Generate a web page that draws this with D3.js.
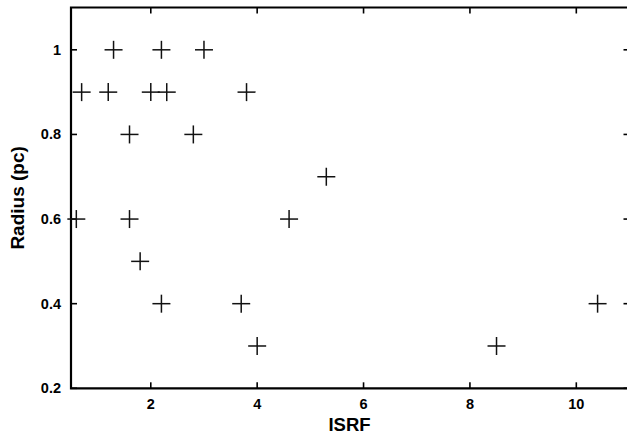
<!DOCTYPE html>
<html><head><meta charset="utf-8">
<script src="https://cdn.jsdelivr.net/npm/d3@7"></script>
<style>html,body{margin:0;padding:0;background:#fff;overflow:hidden}</style>
</head><body>
<script>
const isrf   = [0.6, 0.7, 1.2, 1.3, 1.6, 1.6, 1.8, 2.0, 2.2, 2.2, 2.3, 2.8, 3.0, 3.7, 3.8, 4.0, 4.6, 5.3, 8.5, 10.4];
const radius = [0.6, 0.9, 0.9, 1.0, 0.8, 0.6, 0.5, 0.9, 1.0, 0.4, 0.9, 0.8, 1.0, 0.4, 0.9, 0.3, 0.6, 0.7, 0.3, 0.4];
const xTicks = [2, 4, 6, 8, 10];
const yTicks = [0.2, 0.4, 0.6, 0.8, 1.0];
const xLabel = "ISRF";
const yLabel = "Radius (pc)";

const W = 627, H = 434;
const L = 71, R = 629.5, T = 7.5, B = 388.3;
const svg = d3.select("body").append("svg").attr("width", W).attr("height", H);
const x = d3.scaleLinear().domain([0.5, 11]).range([L, R]);
const y = d3.scaleLinear().domain([0.2, 1.1]).range([B, T]);
const font = "'Liberation Sans', Arial, Helvetica, sans-serif";

// ticks (inward)
const tk = 6;
const g = svg.append("g").attr("stroke", "#000").attr("stroke-width", 1.6);
xTicks.forEach(v => {
  g.append("line").attr("x1", x(v)).attr("x2", x(v)).attr("y1", B).attr("y2", B - tk);
  g.append("line").attr("x1", x(v)).attr("x2", x(v)).attr("y1", T).attr("y2", T + tk);
});
yTicks.forEach(v => {
  g.append("line").attr("x1", L).attr("x2", L + tk).attr("y1", y(v)).attr("y2", y(v));
  g.append("line").attr("x1", R).attr("x2", R - tk).attr("y1", y(v)).attr("y2", y(v));
});

// frame (left, bottom, top)
svg.append("path")
  .attr("d", `M${R},${T}H${L}V${B}H${R}`)
  .attr("fill", "none").attr("stroke", "#000").attr("stroke-width", 2.2);

// tick labels
svg.append("g").selectAll("text").data(xTicks).join("text")
  .attr("x", d => x(d)).attr("y", 408.5)
  .attr("text-anchor", "middle")
  .attr("font-family", font).attr("font-weight", "bold").attr("font-size", 14.5)
  .text(d => d);
svg.append("g").selectAll("text").data(yTicks).join("text")
  .attr("x", 61).attr("y", d => y(d) + 5)
  .attr("text-anchor", "end")
  .attr("font-family", font).attr("font-weight", "bold").attr("font-size", 14.5)
  .text(d => d === 1 ? "1" : d3.format(".1f")(d));

// axis labels
svg.append("text").attr("x", 349.5).attr("y", 431)
  .attr("text-anchor", "middle")
  .attr("font-family", font).attr("font-weight", "bold").attr("font-size", 18.5)
  .text(xLabel);
svg.append("text").attr("transform", `translate(24,${(T + B) / 2}) rotate(-90)`)
  .attr("text-anchor", "middle")
  .attr("font-family", font).attr("font-weight", "bold").attr("font-size", 19)
  .text(yLabel);

// points as crosses
const data = isrf.map((v, i) => ({x: v, y: radius[i]}));
const s = 9;
const pts = svg.append("g").attr("stroke", "#111").attr("stroke-width", 1.5);
data.forEach(d => {
  const cx = x(d.x), cy = y(d.y);
  pts.append("line").attr("x1", cx - s).attr("x2", cx + s).attr("y1", cy).attr("y2", cy);
  pts.append("line").attr("x1", cx).attr("x2", cx).attr("y1", cy - s).attr("y2", cy + s);
});
</script>
</body></html>
